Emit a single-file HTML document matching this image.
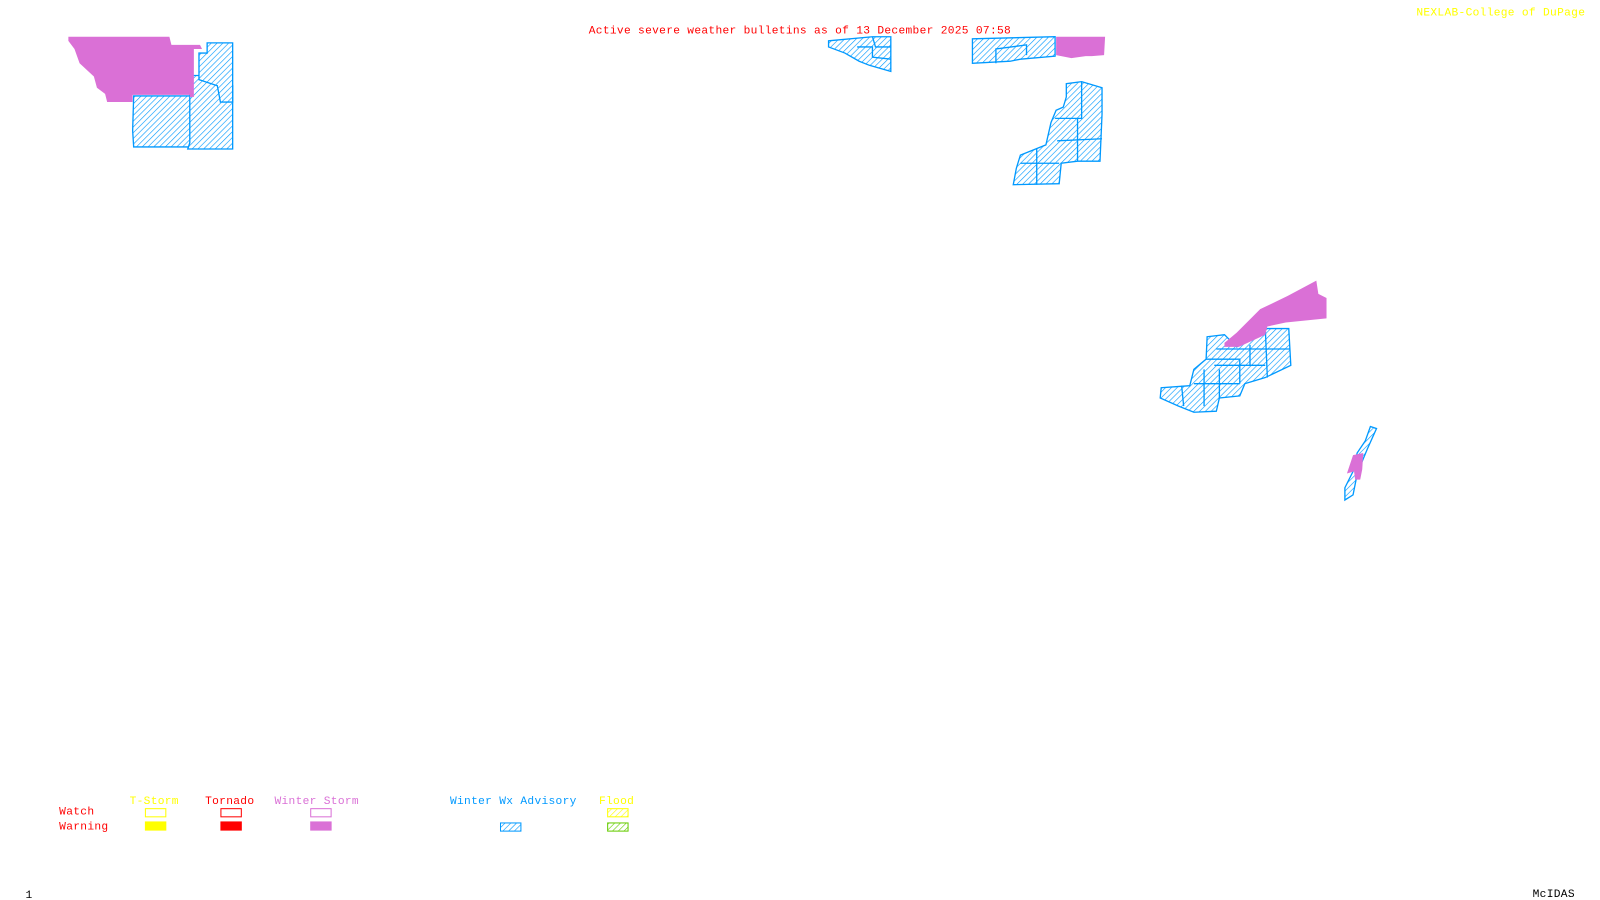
<!DOCTYPE html>
<html><head><meta charset="utf-8"><style>
html,body{margin:0;padding:0;background:#fff;width:1600px;height:900px;overflow:hidden}
svg text{font-family:"Liberation Mono",monospace;font-size:11px;letter-spacing:0.3px}
</style></head><body>
<svg width="1600" height="900" xmlns="http://www.w3.org/2000/svg">
<defs>
<pattern id="h" patternUnits="userSpaceOnUse" width="4" height="4" patternTransform="rotate(45)">
<rect width="4" height="4" fill="#fff"/><line x1="0" y1="0" x2="0" y2="4" stroke="#0099ff" stroke-width="1.2"/>
</pattern>
<pattern id="hy" patternUnits="userSpaceOnUse" width="4" height="4" patternTransform="rotate(45)">
<rect width="4" height="4" fill="#fff"/><line x1="0" y1="0" x2="0" y2="4" stroke="#ffff00" stroke-width="1.2"/>
</pattern>
<pattern id="hg" patternUnits="userSpaceOnUse" width="4" height="4" patternTransform="rotate(45)">
<rect width="4" height="4" fill="#fff"/><line x1="0" y1="0" x2="0" y2="4" stroke="#66cc00" stroke-width="1.2"/>
</pattern>
</defs>
<g transform="scale(1.0204)">
<g fill="url(#h)" stroke="#0099ff" stroke-width="1.3">
<polygon points="131,94 189,94 189,144 131,144 130,128"/>
<polygon points="186,74 210,74 213,82 228,84 228,146 184,146 186,140"/>
<polygon points="195,52 203,52 203,42 228,42 228,100 216,100 213,84 195,78"/>
<polygon points="812,40 855,36 873,36 873,70 852,64 842,60 828,52 812,46"/>
<path fill="none" d="M855,36 L858,46 L873,46 M840,46 L855,46 L855,56 L873,58"/>
<polygon points="953,38 1034,36 1034,55 1000,58 990,60 953,62"/>
<path fill="none" d="M976,62 L976,48 L1006,44 L1006,54"/>
<polygon points="1045,82 1060,80 1080,86 1080,112 1078,158 1056,158 1040,160 1038,180 993,181 996,165 1000,152 1025,142 1030,120 1035,108 1042,105 1045,95"/>
<path fill="none" d="M1060,80 L1060,116 L1034,116 M1016,145 L1016,181 M1000,160 L1038,160 M1036,138 L1080,136 M1056,116 L1056,158"/>
<polygon points="1183,330 1200,328 1212,340 1242,322 1263,322 1265,358 1240,370 1220,376 1215,388 1195,390 1192,403 1170,404 1155,398 1137,390 1138,380 1166,378 1170,362 1182,352"/>
<path fill="none" d="M1182,352 L1215,352 L1215,376 M1192,342 L1264,342 M1190,358 L1240,358 M1170,376 L1215,376 M1195,362 L1195,390 M1180,362 L1180,398 M1158,378 L1160,398 M1240,322 L1242,370 M1225,338 L1225,358"/>
<polygon points="1343,418 1349,420 1340,440 1335,452 1330,465 1326,485 1318,490 1318,478 1326,462 1330,444 1338,432"/>
</g>
<g fill="#da70d6">
<polygon points="67,36 166,36 168,44 196,44 198,48 190,48 190,95 186,95 186,93 130,93 130,100 105,100 103,92 95,86 92,75 78,62 73,48 67,40"/>
<polygon points="1035,36 1083,36 1082,54 1070,55 1064,55 1050,57 1035,54"/>
<polygon points="1200,336 1212,326 1235,303 1262,290 1290,275 1292,288 1300,292 1300,312 1260,316 1242,320 1240,328 1214,340 1200,340"/>
<polygon points="1326,446 1336,444 1335,460 1333,470 1328,470 1327,462 1320,464"/>
</g>
<text x="577" y="33" fill="#ff0000">Active severe weather bulletins as of 13 December 2025 07:58</text>
<text x="1388" y="15" fill="#ffff00">NEXLAB-College of DuPage</text>
<text x="127" y="788" fill="#ffff00">T-Storm</text>
<text x="201" y="788" fill="#ff0000">Tornado</text>
<text x="269" y="788" fill="#da70d6">Winter Storm</text>
<text x="441" y="788" fill="#0099ff">Winter Wx Advisory</text>
<text x="587" y="788" fill="#ffff00">Flood</text>
<text x="58" y="798" fill="#ff0000">Watch</text>
<text x="58" y="813" fill="#ff0000">Warning</text>
<rect x="142.5" y="792.5" width="20" height="8" fill="none" stroke="#ffff00"/>
<rect x="216.5" y="792.5" width="20" height="8" fill="none" stroke="#ff0000"/>
<rect x="304.5" y="792.5" width="20" height="8" fill="none" stroke="#da70d6"/>
<rect x="595.5" y="792.5" width="20" height="8" fill="url(#hy)" stroke="#ffff00"/>
<rect x="142" y="805" width="21" height="9" fill="#ffff00"/>
<rect x="216" y="805" width="21" height="9" fill="#ff0000"/>
<rect x="304" y="805" width="21" height="9" fill="#da70d6"/>
<rect x="490.5" y="806.5" width="20" height="8" fill="url(#h)" stroke="#0099ff"/>
<rect x="595.5" y="806.5" width="20" height="8" fill="url(#hg)" stroke="#66cc00"/>
<text x="25" y="880" fill="#000">1</text>
<text x="1502" y="879" fill="#000">McIDAS</text>
</g>
</svg>
</body></html>
